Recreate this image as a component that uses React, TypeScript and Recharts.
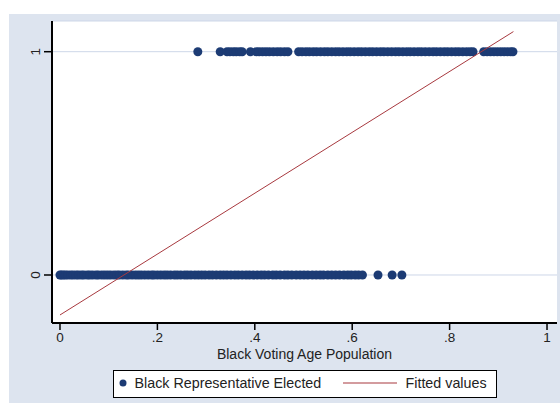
import React from 'react';
import { ScatterChart, Scatter, XAxis, YAxis, CartesianGrid, ZAxis } from 'recharts';

// Share of black voting-age population in districts with no black representative elected (y = 0)
const notElectedX = [
  0, 0.003, 0.007, 0.011, 0.016, 0.022, 0.027, 0.033, 0.038, 0.044, 0.049, 0.056, 0.061, 0.067,
  0.074, 0.079, 0.086, 0.092, 0.098, 0.104, 0.111, 0.117, 0.122, 0.129, 0.136, 0.141, 0.148,
  0.155, 0.161, 0.167, 0.174, 0.181, 0.188, 0.193, 0.2, 0.207, 0.214, 0.22, 0.227, 0.235, 0.241,
  0.248, 0.256, 0.262, 0.269, 0.277, 0.284, 0.291, 0.298, 0.306, 0.313, 0.321, 0.329, 0.336,
  0.343, 0.351, 0.359, 0.366, 0.374, 0.382, 0.389, 0.397, 0.405, 0.413, 0.42, 0.428, 0.437,
  0.444, 0.452, 0.461, 0.468, 0.476, 0.485, 0.493, 0.501, 0.509, 0.518, 0.526, 0.534, 0.541,
  0.55, 0.558, 0.566, 0.574, 0.583, 0.591, 0.598, 0.606, 0.613, 0.621, 0.653, 0.682, 0.702,
];

// Districts where a black representative was elected (y = 1)
const electedX = [
  0.283, 0.329, 0.343, 0.349, 0.356, 0.362, 0.369, 0.374, 0.391, 0.403, 0.409, 0.416, 0.423,
  0.43, 0.438, 0.446, 0.453, 0.461, 0.468, 0.49, 0.497, 0.505, 0.512, 0.52, 0.527, 0.535, 0.543,
  0.55, 0.558, 0.566, 0.573, 0.581, 0.589, 0.596, 0.604, 0.612, 0.619, 0.627, 0.635, 0.642,
  0.65, 0.658, 0.665, 0.673, 0.681, 0.689, 0.696, 0.704, 0.712, 0.719, 0.727, 0.735, 0.742,
  0.75, 0.758, 0.766, 0.773, 0.781, 0.789, 0.796, 0.804, 0.812, 0.819, 0.827, 0.835, 0.842,
  0.848, 0.87, 0.877, 0.884, 0.891, 0.898, 0.905, 0.912, 0.919, 0.925, 0.93,
];

// Linear fit endpoints
const fitX = [0, 0.931];
const fitY = [-0.179, 1.09];

const xTicks = [0, 0.2, 0.4, 0.6, 0.8, 1];
const yTicks = [0, 1];
const xTitle = 'Black Voting Age Population';
const seriesNames = ['Black Representative Elected', 'Fitted values'];

const notElected = notElectedX.map((x) => ({ x, y: 0 }));
const elected = electedX.map((x) => ({ x, y: 1 }));
const fitted = fitX.map((x, i) => ({ x, y: fitY[i] }));

const FONT = "Arial, 'Liberation Sans', sans-serif";
const DOT = '#1c3b74';
const FIT = '#a8393f';

const fmtX = (v: number) => {
  if (v === 0) return '0';
  if (v === 1) return '1';
  return String(Number(v.toFixed(1))).replace(/^0/, '');
};

const YTick = (props: any) => {
  const { x, y, payload } = props;
  const bx = x - 2;
  return (
    <text
      x={bx}
      y={y}
      transform={`rotate(-90, ${bx}, ${y})`}
      textAnchor="middle"
      fontSize={13.5}
      fontFamily={FONT}
      fill="#222"
    >
      {String(payload.value)}
    </text>
  );
};

export default function App() {
  return (
    <div
      style={{
        position: 'absolute',
        left: 0,
        top: 0,
        width: 560,
        height: 403,
        background: '#ffffff',
        fontFamily: FONT,
      }}
    >
      <div
        style={{
          position: 'absolute',
          left: 9,
          top: 14,
          width: 551,
          height: 389,
          background: '#dde4ef',
        }}
      />
      <div style={{ position: 'absolute', left: 0, top: 0 }}>
        <ScatterChart
          width={560}
          height={403}
          margin={{ top: 21, right: 3, left: 22, bottom: 40 }}
        >
          <CartesianGrid vertical={false} stroke="#cdd7e8" fill="#ffffff" />
          <XAxis
            type="number"
            dataKey="x"
            domain={[-0.0164, 1.0205]}
            allowDataOverflow
            ticks={xTicks}
            tickFormatter={fmtX}
            height={40}
            tickSize={7}
            tickMargin={2}
            axisLine={{ stroke: '#000', strokeWidth: 2 }}
            tickLine={{ stroke: '#000', strokeWidth: 1.5 }}
            tick={{ fontSize: 13.5, fontFamily: FONT, fill: '#222' }}
          />
          <YAxis
            type="number"
            dataKey="y"
            domain={[-0.215, 1.1375]}
            allowDataOverflow
            ticks={yTicks}
            width={30}
            tickSize={8}
            tickMargin={2}
            axisLine={{ stroke: '#000', strokeWidth: 2 }}
            tickLine={{ stroke: '#000', strokeWidth: 1.5 }}
            tick={<YTick />}
          />
          <ZAxis range={[64, 64]} />
          <Scatter data={notElected} fill={DOT} isAnimationActive={false} />
          <Scatter data={elected} fill={DOT} isAnimationActive={false} />
          <Scatter
            data={fitted}
            line={{ stroke: FIT, strokeWidth: 1 }}
            shape={() => <g />}
            isAnimationActive={false}
          />
        </ScatterChart>
      </div>
      <div
        style={{
          position: 'absolute',
          left: 52,
          width: 505,
          top: 346,
          textAlign: 'center',
          fontSize: 14,
          lineHeight: '16px',
          color: '#222',
          whiteSpace: 'nowrap',
        }}
      >
        {xTitle}
      </div>
      <div
        style={{
          position: 'absolute',
          left: 113,
          top: 370,
          width: 384,
          height: 28,
          boxSizing: 'border-box',
          border: '1.5px solid #000',
          background: '#fff',
          fontSize: 14.3,
          color: '#222',
        }}
      >
        <svg width={384} height={28} style={{ position: 'absolute', left: -1.5, top: -1.5 }}>
          <circle cx={10} cy={13} r={3.5} fill={DOT} />
          <line x1={230} x2={284} y1={13} y2={13} stroke={FIT} strokeWidth={1.2} />
        </svg>
        <span style={{ position: 'absolute', left: 20.5, top: 4, whiteSpace: 'nowrap' }}>
          {seriesNames[0]}
        </span>
        <span style={{ position: 'absolute', left: 291.5, top: 4, whiteSpace: 'nowrap' }}>
          {seriesNames[1]}
        </span>
      </div>
    </div>
  );
}
